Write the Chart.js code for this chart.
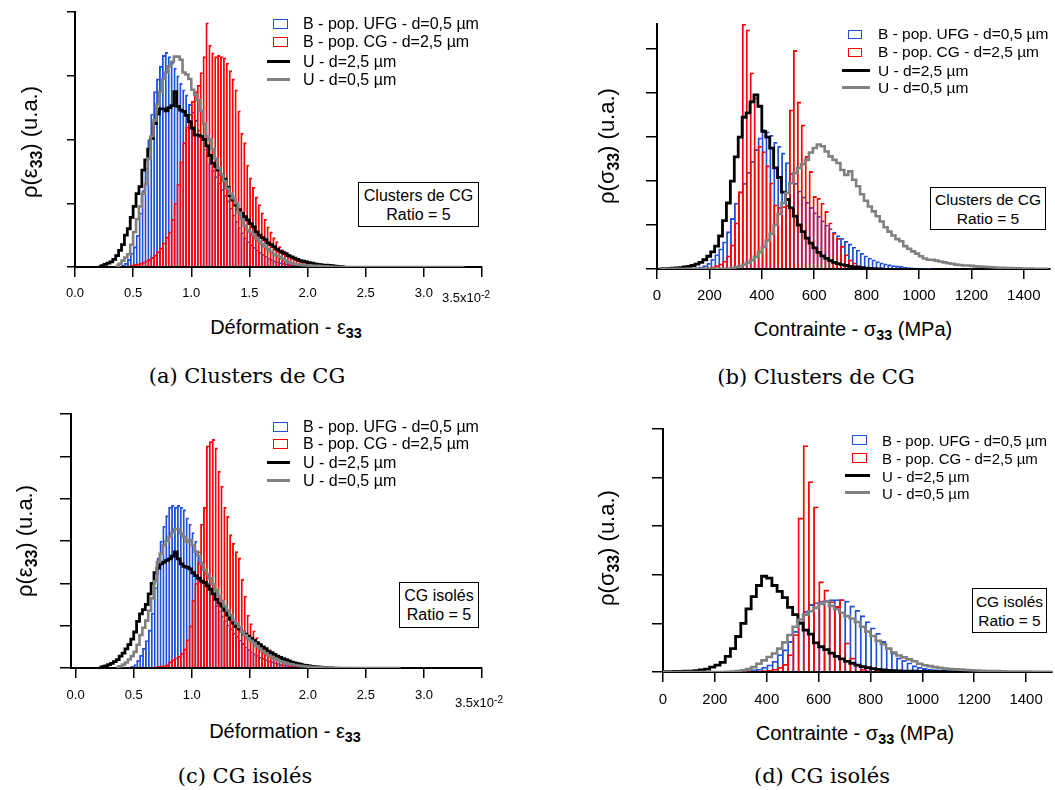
<!DOCTYPE html>
<html><head><meta charset="utf-8">
<script src="https://cdn.jsdelivr.net/npm/chart.js@4/dist/chart.umd.min.js"></script>
<style>
body{margin:0;background:#fff;}
#wrap{position:relative;width:1055px;height:790px;overflow:hidden;font-family:"Liberation Sans",Arial,sans-serif;color:#000;background:#fff;}
canvas{position:absolute;}
.t{position:absolute;white-space:nowrap;line-height:1;}
.cap{font-family:"DejaVu Serif",serif;font-size:21px;transform:translate(-50%,-50%);}
.xt{font-size:20px;transform:translate(-50%,-50%);}
.yt{font-size:22px;transform:translate(-50%,-50%) rotate(-90deg);}
sub.b{font-weight:bold;font-size:0.72em;vertical-align:-0.3em;line-height:0;}
.exp{font-size:13px;}
.exp sup{font-size:10px;vertical-align:0.45em;line-height:0;}
.lg{position:absolute;white-space:nowrap;line-height:1;transform:translateY(-50%);}
.sq{position:absolute;box-sizing:border-box;border:1.5px solid;background:transparent;}
.ln{position:absolute;height:3px;}
.box{position:absolute;box-sizing:border-box;border:1.5px solid #000;background:#fff;display:flex;flex-direction:column;justify-content:center;align-items:center;line-height:19px;}
</style></head><body><div id="wrap">
<canvas id="ca" width="520" height="310" style="left:0;top:0;width:520px;height:310px"></canvas>
<canvas id="cb" width="495" height="310" style="left:560px;top:0;width:495px;height:310px"></canvas>
<canvas id="cc" width="520" height="310" style="left:0;top:400px;width:520px;height:310px"></canvas>
<canvas id="cd" width="495" height="310" style="left:560px;top:400px;width:495px;height:310px"></canvas>

<!-- legends -->
<div class="sq" style="left:273px;top:19px;width:15px;height:10px;border-color:#1e50dc"></div>
<div class="lg" style="left:303px;top:24px;font-size:16px">B - pop. UFG - d=0,5 µm</div>
<div class="sq" style="left:273px;top:37px;width:15px;height:10px;border-color:#ff0000"></div>
<div class="lg" style="left:303px;top:42px;font-size:16px">B - pop. CG - d=2,5 µm</div>
<div class="ln" style="left:267px;top:60px;width:23px;background:#000"></div>
<div class="lg" style="left:303px;top:62px;font-size:16px">U - d=2,5 µm</div>
<div class="ln" style="left:267px;top:78px;width:23px;background:#808080"></div>
<div class="lg" style="left:303px;top:80px;font-size:16px">U - d=0,5 µm</div>

<div class="sq" style="left:848px;top:30px;width:14px;height:9px;border-color:#1e50dc"></div>
<div class="lg" style="left:878px;top:34px;font-size:15.5px">B - pop. UFG - d=0,5 µm</div>
<div class="sq" style="left:848px;top:48px;width:14px;height:9px;border-color:#ff0000"></div>
<div class="lg" style="left:878px;top:52px;font-size:15.5px">B - pop. CG - d=2,5 µm</div>
<div class="ln" style="left:842px;top:69px;width:28px;background:#000"></div>
<div class="lg" style="left:878px;top:71px;font-size:15.5px">U - d=2,5 µm</div>
<div class="ln" style="left:842px;top:86px;width:28px;background:#808080"></div>
<div class="lg" style="left:878px;top:88px;font-size:15.5px">U - d=0,5 µm</div>

<div class="sq" style="left:273px;top:422px;width:15px;height:10px;border-color:#1e50dc"></div>
<div class="lg" style="left:303px;top:427px;font-size:16px">B - pop. UFG - d=0,5 µm</div>
<div class="sq" style="left:273px;top:439px;width:15px;height:10px;border-color:#ff0000"></div>
<div class="lg" style="left:303px;top:444px;font-size:16px">B - pop. CG - d=2,5 µm</div>
<div class="ln" style="left:267px;top:461px;width:23px;background:#000"></div>
<div class="lg" style="left:303px;top:463px;font-size:16px">U - d=2,5 µm</div>
<div class="ln" style="left:267px;top:479px;width:23px;background:#808080"></div>
<div class="lg" style="left:303px;top:481px;font-size:16px">U - d=0,5 µm</div>

<div class="sq" style="left:852px;top:435px;width:15px;height:10px;border-color:#1e50dc"></div>
<div class="lg" style="left:882px;top:440px;font-size:15px">B - pop. UFG - d=0,5 µm</div>
<div class="sq" style="left:852px;top:453px;width:15px;height:10px;border-color:#ff0000"></div>
<div class="lg" style="left:882px;top:458px;font-size:15px">B - pop. CG - d=2,5 µm</div>
<div class="ln" style="left:845px;top:474px;width:25px;background:#000"></div>
<div class="lg" style="left:882px;top:476px;font-size:15px">U - d=2,5 µm</div>
<div class="ln" style="left:845px;top:491px;width:25px;background:#808080"></div>
<div class="lg" style="left:882px;top:493px;font-size:15px">U - d=0,5 µm</div>

<!-- annotation boxes -->
<div class="box" style="left:358px;top:182px;width:121px;height:45px;font-size:16px"><div>Clusters de CG</div><div>Ratio = 5</div></div>
<div class="box" style="left:930px;top:187px;width:116px;height:43px;font-size:15.5px"><div>Clusters de CG</div><div>Ratio = 5</div></div>
<div class="box" style="left:399px;top:582px;width:80px;height:46px;font-size:16px"><div>CG isolés</div><div>Ratio = 5</div></div>
<div class="box" style="left:972px;top:588px;width:75px;height:45px;font-size:15.5px"><div>CG isolés</div><div>Ratio = 5</div></div>

<!-- axis titles -->
<div class="t yt" style="left:30px;top:142px">ρ(ε<sub class="b">33</sub>) (u.a.)</div>
<div class="t yt" style="left:607px;top:146px">ρ(σ<sub class="b">33</sub>) (u.a.)</div>
<div class="t yt" style="left:25px;top:541px">ρ(ε<sub class="b">33</sub>) (u.a.)</div>
<div class="t yt" style="left:607px;top:548px">ρ(σ<sub class="b">33</sub>) (u.a.)</div>
<div class="t xt" style="left:286px;top:327px">Déformation - ε<sub class="b">33</sub></div>
<div class="t xt" style="left:853px;top:329px">Contrainte - σ<sub class="b">33</sub> (MPa)</div>
<div class="t xt" style="left:285px;top:731px">Déformation - ε<sub class="b">33</sub></div>
<div class="t xt" style="left:855px;top:733px">Contrainte - σ<sub class="b">33</sub> (MPa)</div>
<div class="t exp" style="left:442px;top:291px">3.5x10<sup>-2</sup></div>
<div class="t exp" style="left:455px;top:696px">3.5x10<sup>-2</sup></div>

<!-- captions -->
<div class="t cap" style="left:247px;top:376px">(a) Clusters de CG</div>
<div class="t cap" style="left:816px;top:377px">(b) Clusters de CG</div>
<div class="t cap" style="left:245px;top:776px">(c) CG isolés</div>
<div class="t cap" style="left:822px;top:776px">(d) CG isolés</div>
</div>
<script>
// ---------- DATA (histogram heights, arbitrary units; bins given by start edge + width) ----------
// Panel (a) : Déformation ×10^-2, bins 0.025
const A_BIN = 0.025;
const A_UFG_START = 0.40;
const A_UFG = [0.3,0.6,1.2,2.2,3.2,5.0,8.5,12.0,15.5,20.0,24.0,27.5,29.5,31.5,33.2,33.7,33.0,32.0,31.2,30.0,28.8,27.8,27.0,25.5,24.3,23.0,21.5,20.0,18.5,17.5,16.3,15.2,14.2,13.2,12.2,11.3,10.4,9.3,8.2,7.2,6.2,5.4,4.6,4.0,3.5,3.1,2.7,2.3,2.0,1.7,1.4,1.2,1.0,0.85,0.7,0.6,0.5,0.4,0.3,0.25,0.2,0.15,0.1,0.1,0.05];
const A_CG_START = 0.45;
const A_CG = [0.2,0.3,0.4,0.5,0.6,0.8,1.0,1.2,1.5,1.9,2.4,3.0,3.8,4.7,5.5,7.5,10.0,13.0,16.5,19.5,22.0,24.0,26.0,27.5,28.5,30.5,33.0,38.3,34.8,33.6,33.0,33.2,33.0,32.8,32.0,30.8,29.5,27.8,24.5,21.0,19.5,16.0,14.0,12.5,11.0,9.8,8.5,7.5,6.3,5.5,4.6,4.0,3.2,2.7,2.3,2.0,1.6,1.3,1.1,0.9,0.8,0.7,0.6,0.5,0.45,0.4,0.35,0.3,0.25,0.22,0.2,0.18,0.15,0.12,0.1,0.08,0.06,0.05];
const A_U25_START = 0.20;
const A_U25 = [0,0.2,0.4,0.6,0.8,1.2,1.8,2.6,3.5,5.0,6.0,7.8,9.5,11.5,12.6,15.2,16.8,18.5,20.2,22.5,24.0,24.8,24.8,24.5,25.0,25.3,27.5,25.2,24.6,24.4,23.8,22.8,21.8,20.7,20.7,20.5,20.0,19.0,17.5,16.3,15.8,15.2,14.5,13.8,12.5,11.2,10.5,9.7,9.0,8.4,7.9,7.4,6.8,6.3,5.5,5.0,4.6,4.3,3.8,3.5,3.2,2.8,2.5,2.3,2.1,1.8,1.6,1.4,1.2,1.0,0.9,0.8,0.7,0.6,0.5,0.4,0.35,0.3,0.3,0.25,0.2,0.15,0.1,0.05,0];
const A_U05_START = 0.35;
const A_U05 = [0.2,0.5,1.0,1.5,2.0,3.5,5.5,7.5,9.5,11.5,13.0,17.0,20.5,23.0,25.5,27.5,29.5,30.5,31.5,32.2,33.0,33.0,32.5,30.5,30.2,29.5,27.8,27.0,26.2,24.5,22.5,20.5,20.0,18.5,17.0,15.5,14.5,13.5,12.3,11.5,10.8,10.0,8.5,7.5,6.5,5.8,5.5,5.0,4.5,4.0,3.6,3.2,2.8,2.4,2.0,1.8,1.6,1.3,1.0,0.8,0.6,0.5,0.4,0.35,0.3,0.28,0.25,0.22,0.2,0.18,0.15,0.12,0.1,0.08,0.05,
 0,0,0,0,0,0,0,0,0,0,0,0,0,0,0,0,0,0,0,0,0,0,0,0,0,0,0,0,0,0,0,0,0,0,0,0,0,0,0,0,0,0,0,0,0];

// Panel (b) : Contrainte (MPa), bins 15 MPa
const B_BIN = 15;
const B_UFG_START = 10;
const B_UFG = [0.05,0.05,0.05,0.05,0.05,0.05,0.05,0.05,0.2,0.3,0.5,0.8,1.3,2.2,3.3,4.6,6.2,8.5,11.5,15.0,17.5,19.5,22.0,24.5,27.2,29.8,31.7,31.2,30.4,28.8,27.9,26.4,24.2,21.8,19.5,17.8,16.4,15.2,14.0,12.8,12.0,11.0,10.0,9.2,8.4,7.6,7.0,6.3,5.7,5.0,4.3,3.6,3.0,2.5,2.1,1.7,1.4,1.2,1.0,0.8,0.7,0.6,0.45,0.35,0.25,0.2,0.15,0.1,0.05];
const B_CG_START = 145;
const B_CG = [0.1,0.15,0.25,0.35,0.5,0.8,1.2,1.8,3.0,5.5,10.5,17.6,55.7,54.4,44.6,39.0,27.9,26.7,23.5,19.6,14.6,14.0,14.2,14.5,36.2,49.7,38.0,32.8,25.6,22.2,16.5,16.1,15.0,13.1,10.5,8.2,7.0,5.2,3.3,2.1,1.4,0.8,0.5,0.3,0.2,0.1];
const B_U25_START = 10;
const B_U25 = [0.1,0.1,0.15,0.2,0.25,0.3,0.45,0.6,0.8,1.1,1.5,2.1,2.9,3.9,5.2,7.5,11.0,15.0,20.0,25.5,30.0,34.5,35.5,38.0,39.6,37.0,31.3,30.0,27.5,23.0,20.8,17.5,15.8,13.9,12.0,10.0,8.5,7.0,5.9,4.8,3.8,3.0,2.4,1.9,1.5,1.2,1.0,0.8,0.6,0.5,0.4,0.3,0.2,0.15,0.1,0.05,0];
const B_U05_START = 10;
const B_U05 = [0.05,0.05,0.05,0.05,0.05,0.05,0.05,0.05,0.05,0.05,0.05,0.05,0.05,0.05,0.05,0.05,0.05,0.05,0.2,0.4,0.6,1.0,1.4,2.0,2.8,3.8,5.0,6.5,8.0,10.0,12.5,15.0,17.3,19.5,21.8,23.0,23.8,24.8,26.5,27.5,28.3,27.9,26.7,25.6,24.8,24.1,22.5,21.4,22.2,20.3,18.8,17.0,15.5,14.2,13.1,12.0,10.8,9.5,8.5,7.6,6.8,6.3,5.2,4.6,4.0,3.5,2.9,2.4,2.1,2.1,1.9,1.7,1.5,1.3,1.2,1.0,0.9,0.8,0.8,0.7,0.6,0.55,0.5,0.45,0.4,0.35,0.3,0.25,0.2,0.2,0.15,0.15,0.1,0.1,0.1,0.05,0.05,0.05,0.05];

// Panel (c) : Déformation ×10^-2, bins 0.025
const C_BIN = 0.025;
const C_UFG_START = 0.45;
const C_UFG = [0.2,0.4,0.8,1.8,3.0,4.7,6.5,9.0,13.0,19.0,26.0,30.0,33.5,36.0,38.0,38.4,38.0,38.4,38.0,37.4,35.5,34.0,32.0,30.0,27.5,25.0,22.5,20.0,18.0,16.2,14.8,13.5,12.3,11.2,10.2,9.3,8.3,7.5,6.6,5.8,5.0,4.4,3.9,3.4,3.0,2.6,2.3,2.0,1.7,1.5,1.3,1.1,0.9,0.8,0.7,0.55,0.45,0.4,0.3,0.25,0.2,0.15,0.1];
const C_CG_START = 0.65;
const C_CG = [0.2,0.3,0.4,0.5,0.6,0.8,1.5,2.0,2.4,2.8,3.5,4.5,6.7,10.0,16.0,20.0,25.0,34.0,38.0,52.5,53.5,54.0,52.0,46.5,43.0,38.0,35.8,31.5,29.5,27.5,26.0,21.0,17.0,12.5,10.5,8.8,7.2,5.8,4.8,4.2,3.5,3.0,2.5,2.1,1.8,1.5,1.3,1.1,1.0,0.9,0.8,0.7,0.6,0.55,0.5,0.45,0.42,0.4,0.38,0.35,0.33,0.3,0.28,0.26,0.25,0.24,0.22,0.2,0.2,0.18,0.17,0.16,0.15,0.15,0.14,0.13,0.12,0.12,0.1,0.1,0.08,0.06,0.05];
const C_U25_START = 0.20;
const C_U25 = [0.1,0.3,0.5,0.8,1.1,1.5,2.0,2.8,3.5,4.5,5.5,6.8,8.5,11.0,12.8,13.8,15.0,17.5,20.0,22.5,23.6,24.6,25.0,25.4,25.8,26.4,27.4,25.8,24.6,24.0,23.8,23.4,22.5,21.8,21.2,20.5,20.2,19.4,18.6,17.5,16.2,15.4,14.6,13.6,12.5,11.5,10.6,9.8,9.2,8.6,8.0,7.5,7.0,6.5,6.0,5.5,5.0,4.6,4.0,3.6,3.2,2.8,2.5,2.2,2.0,1.7,1.4,1.2,1.0,0.9,0.7,0.6,0.5,0.4,0.3,0.25,0.2,0.15,0.1,0.05,0];
const C_U05_START = 0.35;
const C_U05 = [0.2,0.4,0.8,1.3,2.0,2.8,3.8,5.5,7.8,9.5,11.2,13.5,16.5,20.5,25.0,27.0,29.0,30.0,31.0,32.0,32.8,32.8,31.8,31.0,29.8,30.2,29.0,27.5,26.5,24.5,23.2,22.2,21.2,19.8,18.4,17.0,15.8,14.6,13.6,12.5,11.3,10.5,9.7,8.6,7.7,7.0,6.4,5.9,5.2,4.6,4.0,3.5,3.0,2.6,2.2,1.9,1.6,1.4,1.2,1.0,0.9,0.7,0.6,0.5,0.4,0.35,0.3,0.25,0.2,0.18,0.15,0.12,0.1,0.08,0.05,
 0,0,0,0,0,0,0,0,0,0,0,0,0,0,0,0,0,0,0,0,0,0,0];

// Panel (d) : Contrainte (MPa), bins 20 MPa
const D_BIN = 20;
const D_UFG_START = 300;
const D_UFG = [0.2,0.3,0.5,0.6,1.0,1.5,2.2,3.6,4.6,6.3,8.4,10.4,12.5,13.9,14.3,14.6,14.7,14.9,14.9,14.9,14.6,13.6,12.7,11.6,10.4,9.1,8.0,6.3,4.9,3.9,2.9,2.4,1.9,1.3,1.0,0.75,0.6,0.5,0.45,0.4,0.35,0.3,0.25,0.2,0.15,0.1];
const D_CG_START = 300;
const D_CG = [0.1,0.1,0.2,0.2,0.3,0.4,0.6,1.0,1.6,3.6,7.7,31.7,46.6,39.2,34.0,18.6,16.9,14.5,13.5,14.9,6.0,2.9,1.5,0.6,0.3,0.15,0.1];
const D_U25_START = 0;
const D_U25 = [0.05,0.05,0.1,0.1,0.15,0.2,0.3,0.45,0.6,1.0,1.4,2.0,3.2,4.8,7.3,10.0,13.0,15.5,17.8,19.7,19.3,17.8,16.6,15.3,13.3,11.8,10.0,8.6,7.8,6.0,5.2,4.6,3.9,3.2,2.7,2.2,1.8,1.4,1.1,0.9,0.7,0.55,0.45,0.35,0.3,0.25,0.2,0.2,0.15,0.12,0.1,0.08,0.06,0.05,0.04,0.03,0];
const D_U05_START = 0;
const D_U05 = [0,0,0,0,0,0,0,0,0,0,0,0,0.05,0.1,0.2,0.35,0.6,1.0,1.7,2.4,3.1,3.8,4.8,6.1,7.6,9.3,10.8,11.8,12.5,13.2,14.0,14.5,13.6,12.9,12.2,11.5,11.0,10.3,9.3,8.3,7.4,6.4,5.7,4.8,4.0,3.4,3.0,2.6,2.2,1.7,1.4,1.2,1.0,0.85,0.7,0.6,0.55,0.5,0.4,0.35,0.3,0.25,0.22,0.2,0.18,0.15,0.1,0.1,0.1,0.1,0.08,0.06,0.05,0.05,0.05];

// ---------- RENDERING ----------
const BLUE = '#1e50dc', RED = '#ff0000', BLACK = '#000000', GRAY = '#808080';
Chart.defaults.font.family = "'Liberation Sans', Arial, sans-serif";
Chart.defaults.color = '#000';

function hist(start, w, vals) { return vals.map((v, i) => ({ x: start + (i + 0.5) * w, y: v })); }
function steps(start, w, vals) {
  const p = vals.map((v, i) => ({ x: start + i * w, y: v }));
  p.push({ x: start + vals.length * w, y: vals[vals.length - 1] });
  return p;
}

function panel(id, P) {
  const bar = {
    type: 'bar', backgroundColor: 'rgba(0,0,0,0)',
    borderWidth: { top: 1.2, left: 1.2, right: 0, bottom: 0 }, borderSkipped: false,
    barPercentage: 1, categoryPercentage: 1, grouped: false, yAxisID: 'y'
  };
  const line = { type: 'line', pointRadius: 0, stepped: true, fill: false, tension: 0, xAxisID: 'x', yAxisID: 'y', borderJoinStyle: 'miter' };
  const xCommon = { type: 'linear', min: P.xmin, max: P.xmax, offset: false };
  new Chart(document.getElementById(id), {
    type: 'bar',
    data: { datasets: [
      Object.assign({}, line, { data: steps(P.u05[0], P.bin, P.u05[1]), borderColor: GRAY, borderWidth: 2.6, order: 0 }),
      Object.assign({}, line, { data: steps(P.u25[0], P.bin, P.u25[1]), borderColor: BLACK, borderWidth: 2.8, order: 1 }),
      Object.assign({}, bar, { data: hist(P.cg[0], P.bin, P.cg[1]), borderColor: RED, order: 2, xAxisID: 'xr' }),
      Object.assign({}, bar, { data: hist(P.ufg[0], P.bin, P.ufg[1]), borderColor: BLUE, order: 3, xAxisID: 'x' })
    ]},
    options: {
      responsive: false, animation: false, events: [],
      plugins: { legend: { display: false }, tooltip: { enabled: false } },
      layout: { padding: { left: 0, top: P.padTop, right: P.padRight, bottom: 0 } },
      scales: {
        x: Object.assign({}, xCommon, {
          position: 'bottom',
          afterFit: s => { s.height = P.xH; },
          ticks: { stepSize: P.xStep, includeBounds: false, autoSkip: false, maxRotation: 0, minRotation: 0,
                   font: { size: P.tickFont }, color: '#000', padding: P.tickPad, callback: P.xLabel },
          grid: { drawOnChartArea: false, drawTicks: true, tickLength: 10, color: '#000', lineWidth: 1.5, offset: false },
          border: { color: '#000', width: 2 }
        }),
        xr: Object.assign({}, xCommon, { axis: 'x', display: false }),
        y: {
          min: 0, max: P.ymax,
          afterFit: s => { s.width = P.yW; },
          ticks: { display: false, stepSize: 10, includeBounds: false },
          grid: { drawOnChartArea: false, drawTicks: true, tickLength: P.yTick, color: '#000', lineWidth: 1.5 },
          border: { color: '#000', width: 2 }
        }
      }
    }
  });
}

const epsLabel = v => (Math.abs(v - 3.5) < 1e-9 ? '' : v.toFixed(1));
const sigLabel = v => String(Math.round(v));

panel('ca', { bin: A_BIN, ufg: [A_UFG_START, A_UFG], cg: [A_CG_START, A_CG], u25: [A_U25_START, A_U25], u05: [A_U05_START, A_U05],
  xmin: 0, xmax: 3.5, xStep: 0.5, ymax: 40, xLabel: epsLabel, tickFont: 13, tickPad: 9,
  padTop: 12, padRight: 38, xH: 43, yW: 75, yTick: 8 });
panel('cb', { bin: B_BIN, ufg: [B_UFG_START, B_UFG], cg: [B_CG_START, B_CG], u25: [B_U25_START, B_U25], u05: [B_U05_START, B_U05],
  xmin: 0, xmax: 1500, xStep: 200, ymax: 55.7, xLabel: sigLabel, tickFont: 15, tickPad: 8,
  padTop: 24, padRight: 5, xH: 41, yW: 97, yTick: 11 });
panel('cc', { bin: C_BIN, ufg: [C_UFG_START, C_UFG], cg: [C_CG_START, C_CG], u25: [C_U25_START, C_U25], u05: [C_U05_START, C_U05],
  xmin: -0.04, xmax: 3.5, xStep: 0.5, ymax: 60, xLabel: epsLabel, tickFont: 13, tickPad: 10,
  padTop: 14, padRight: 38, xH: 42, yW: 71, yTick: 11 });
panel('cd', { bin: D_BIN, ufg: [D_UFG_START, D_UFG], cg: [D_CG_START, D_CG], u25: [D_U25_START, D_U25], u05: [D_U05_START, D_U05],
  xmin: 0, xmax: 1500, xStep: 200, ymax: 50, xLabel: sigLabel, tickFont: 15, tickPad: 9,
  padTop: 29, padRight: 3, xH: 38, yW: 103, yTick: 11 });
</script>
</body></html>
